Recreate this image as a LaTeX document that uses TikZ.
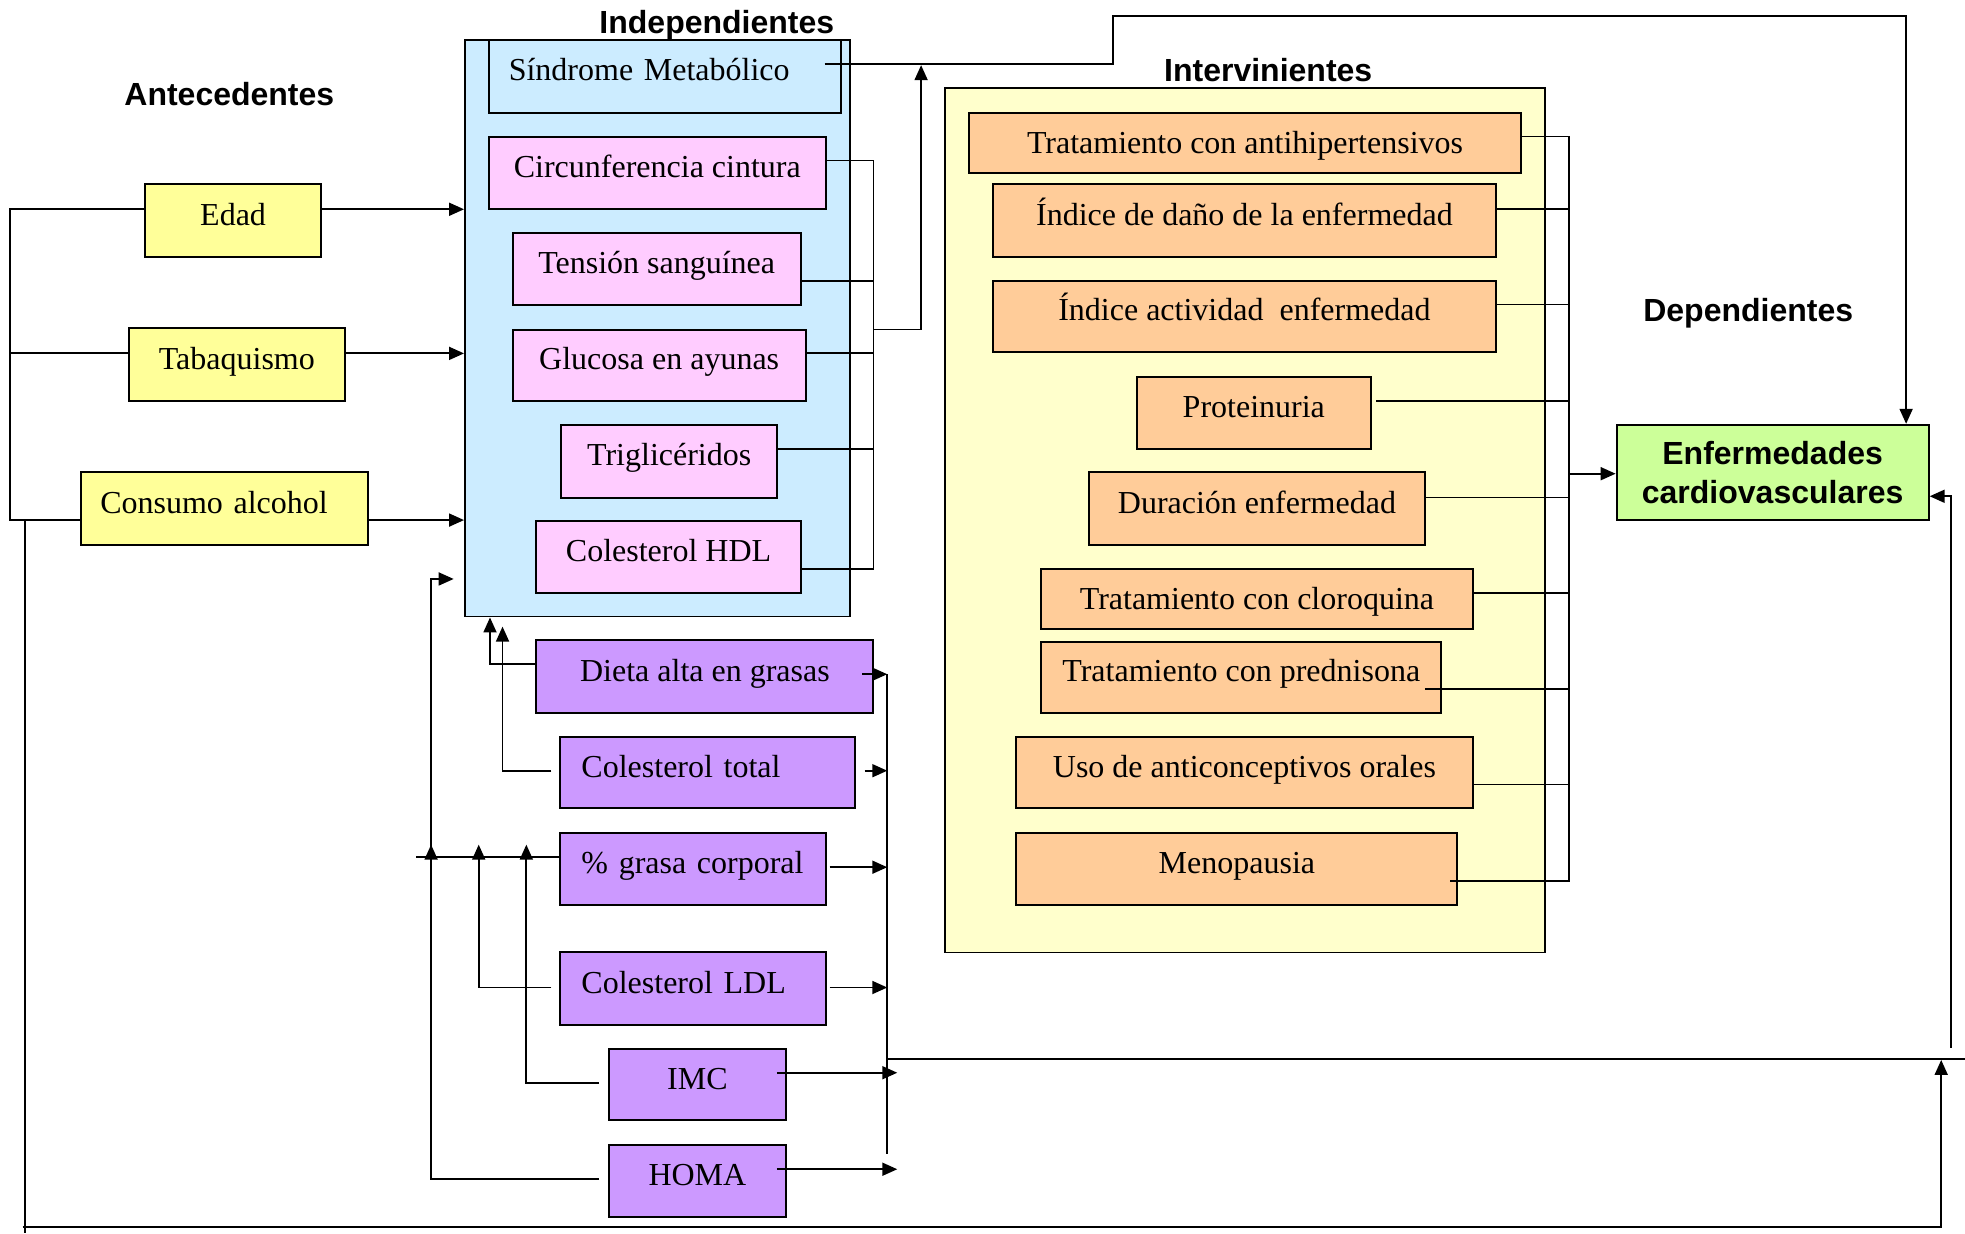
\documentclass[tikz,border=0pt]{standalone}
\usepackage{fontspec}
\setmainfont{Liberation Serif}
\newfontfamily\hdfont{Liberation Sans}
\usetikzlibrary{arrows.meta}
\definecolor{cyel}{HTML}{FFFF99}
\definecolor{cblue}{HTML}{CCECFF}
\definecolor{cpink}{HTML}{FFCCFF}
\definecolor{cpale}{HTML}{FFFFCC}
\definecolor{corange}{HTML}{FFCC99}
\definecolor{cpurple}{HTML}{CC99FF}
\definecolor{cgreen}{HTML}{CCFF99}
\def\myu{0.6266pt}
\newcommand\bx[7]{\node[#6, minimum width={(#4-#2)*\myu}, minimum height={(#5-#3)*\myu}] (#1) at ({(#2+#4)/2},{(#3+#5)/2}) {#7};}
\begin{document}
\begin{tikzpicture}[x=\myu, y=-\myu,
 box/.style={draw, line width=1pt, inner sep=0pt, text height=11pt, text depth=6.5pt, font=\fontsize{16}{19}\selectfont},
 cont/.style={draw, line width=0.9pt, inner sep=0pt},
 hd/.style={font=\hdfont\bfseries\fontsize{16}{19}\selectfont, inner sep=0pt},
 ln/.style={line width=0.9pt},
 arr/.style={line width=0.9pt, -{Triangle[length=7.5pt,width=6.5pt]}},
 yel/.style={box, fill=cyel},
 pnk/.style={box, fill=cpink},
 org/.style={box, fill=corange},
 orgs/.style={box, fill=corange, text height=17.2pt, text depth=6.5pt},
 pur/.style={box, fill=cpurple}]
\useasboundingbox (0,0) rectangle (1568,984);
% headings
\node[hd] (h1) at (183,75) {Antecedentes};
\node[hd] (h2) at (572,20) {Independientes};
\node[hd] (h3) at (1012,56) {Intervinientes};
\node[hd] (h4) at (1395,250) {Dependientes};
% containers
\bx{ind}{371}{32}{678}{492}{cont, fill=cblue}{}
\bx{intv}{754}{70}{1233}{760}{cont, fill=cpale}{}
% antecedentes
\bx{edad}{116}{147}{256}{205}{yel}{Edad}
\bx{tab}{103}{262}{275}{320}{yel}{Tabaquismo}
\bx{alc}{65}{377}{294}{435}{yel, text width=199*\myu, align=left}{Consumo alcohol}
% independientes
\bx{sm}{390}{32}{671}{90}{box, fill=cblue, text width=249*\myu, align=left}{Síndrome Metabólico}
\bx{circ}{390}{109}{659}{167}{pnk}{Circunferencia cintura}
\bx{ten}{409}{186}{639}{243}{pnk}{Tensión sanguínea}
\bx{glu}{409}{263}{643}{320}{pnk}{Glucosa en ayunas}
\bx{tri}{448}{339}{620}{397}{pnk}{Triglicéridos}
\bx{hdl}{428}{416}{639}{473}{pnk}{Colesterol HDL}
\bx{die}{428}{511}{697}{569}{pur}{Dieta alta en grasas}
\bx{ct}{447}{588}{682}{645}{pur, text width=201*\myu, align=left}{Colesterol total}
\bx{gra}{447}{665}{659}{722}{pur, text width=178*\myu, align=left}{\% grasa corporal}
\bx{ldl}{447}{760}{659}{818}{pur, text width=178*\myu, align=left}{Colesterol LDL}
\bx{imc}{486}{837}{627}{894}{pur}{IMC}
\bx{homa}{486}{914}{627}{971}{pur}{HOMA}
% intervinientes
\bx{tra}{773}{90}{1214}{138}{orgs}{Tratamiento con antihipertensivos}
\bx{ida}{792}{147}{1194}{205}{org}{Índice de daño de la enfermedad}
\bx{iac}{792}{224}{1194}{281}{org}{Índice actividad~ enfermedad}
\bx{pro}{907}{301}{1094}{358}{org}{Proteinuria}
\bx{dur}{869}{377}{1137}{435}{org}{Duración enfermedad}
\bx{clo}{831}{454}{1175}{502}{orgs}{Tratamiento con cloroquina}
\bx{pre}{831}{512}{1150}{569}{org}{Tratamiento con prednisona}
\bx{uso}{811}{588}{1175}{645}{org}{Uso de anticonceptivos orales}
\bx{men}{811}{665}{1163}{722}{org}{Menopausia}
% dependiente
\bx{enf}{1290}{339}{1539}{415}{draw, line width=1pt, fill=cgreen, inner sep=0pt, align=center, font=\hdfont\bfseries\fontsize{16}{19.5}\selectfont}{Enfermedades\\cardiovasculares}
% ---- connectors ----
% antecedentes bus
\draw[ln] (edad.west |- 0,167) -- (8,167) -- (8,415) -- (alc.west |- 0,415);
\draw[ln] (tab.west |- 0,282) -- (8,282);
\draw[arr] (edad.east |- 0,167) -- (ind.west |- 0,167);
\draw[arr] (tab.east |- 0,282) -- (ind.west |- 0,282);
\draw[arr] (alc.east |- 0,415) -- (ind.west |- 0,415);
% bottom loop
\draw[ln] (20,415) -- (20,984);
\coordinate (bj) at (1549,845);
\draw[arr] (18,979) -- (1549,979) -- ([yshift=-0.5pt]bj);
% sindrome metabolico to enfermedades
\draw[arr] (658,51) -- (888,51) -- (888,13) -- (1521,13) -- (enf.north -| 1521,0);
% pink bus
\draw[ln] (circ.east |- 0,128) -- (697,128) -- (697,454) -- (hdl.east |- 0,454);
\draw[ln] (ten.east |- 0,224) -- (697,224);
\draw[ln] (glu.east |- 0,282) -- (697,282);
\draw[ln] (tri.east |- 0,358) -- (697,358);
\draw[arr] (697,263) -- (735,263) -- (735,52);
% intervinientes bus
\draw[ln] (tra.east |- 0,109) -- (1252,109) -- (1252,703) -- (1157,703);
\draw[ln] (ida.east |- 0,167) -- (1252,167);
\draw[ln] (iac.east |- 0,243) -- (1252,243);
\draw[ln] (1098,320) -- (1252,320);
\draw[ln] (dur.east |- 0,397) -- (1252,397);
\draw[ln] (clo.east |- 0,473) -- (1252,473);
\draw[ln] (1137,550) -- (1252,550);
\draw[ln] (uso.east |- 0,626) -- (1252,626);
\draw[arr] (1252,378) -- (enf.west |- 0,378);
% right return into enfermedades
\draw[arr] (1557,836) -- (1557,396) -- (enf.east |- 0,396);
\draw[ln] (708,845) -- (1568,845);
% purple right bus
\draw[ln] (708,538) -- (708,921);
\draw[arr] (688,538) -- (708,538);
\draw[arr] (690,615) -- (708,615);
\draw[arr] (662,692) -- (708,692);
\draw[arr] (662,788) -- (708,788);
\draw[arr] (620,856) -- (716,856);
\draw[arr] (620,933) -- (716,933);
% purple left connections
\draw[arr] (die.west |- 0,530) -- (391,530) -- (ind.south -| 391,0);
\draw[arr] (440,615) -- (401,615) -- (401,500);
\draw[ln] (gra.west |- 0,684) -- (332,684);
\draw[arr] (344,684) -- (344,462) -- (362,462);
\draw[arr] (478,941) -- (344,941) -- (344,674);
\draw[arr] (440,788) -- (382,788) -- (382,674);
\draw[arr] (478,864) -- (420,864) -- (420,674);
\end{tikzpicture}
\end{document}
